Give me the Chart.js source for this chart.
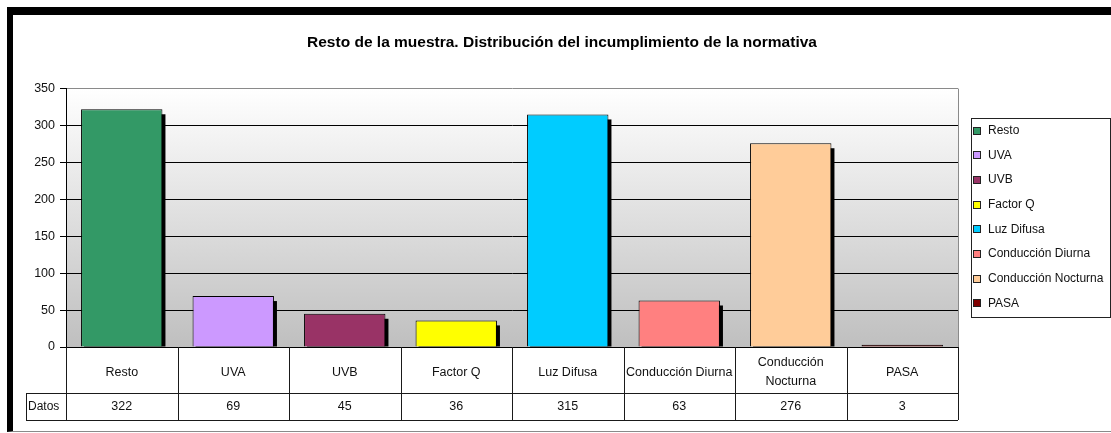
<!DOCTYPE html>
<html>
<head>
<meta charset="utf-8">
<script src="https://cdn.jsdelivr.net/npm/chart.js@4.4.1/dist/chart.umd.min.js"></script>
<style>
  html, body { margin: 0; padding: 0; background: #fff; }
  #wrap { position: relative; width: 1111px; height: 433px; overflow: hidden; }
  #frame {
    position: absolute; left: 7px; top: 7px; right: 0; bottom: 1px;
    border-top: 8px solid #000; border-left: 6px solid #000; border-bottom: 1px solid #8a8a8a;
  }
  #chart { position: absolute; left: 0; top: 0; }
</style>
</head>
<body>
<div id="wrap">
  <div id="frame"></div>
  <canvas id="chart" width="1111" height="433"></canvas>
</div>
<script>
const categories = ["Resto", "UVA", "UVB", "Factor Q", "Luz Difusa", "Conducción Diurna", "Conducción Nocturna", "PASA"];
const tickLabels = ["Resto", "UVA", "UVB", "Factor Q", "Luz Difusa", "Conducción Diurna", ["Conducción", "Nocturna"], "PASA"];
const values = [322, 69, 45, 36, 315, 63, 276, 3];
const colors = ["#339966", "#cc99ff", "#993366", "#ffff00", "#00ccff", "#ff8080", "#ffcc99", "#800000"];
const rowLabel = "Datos";
const yMax = 350;
const yStep = 50;
const title = "Resto de la muestra. Distribución del incumplimiento de la normativa";

const FONT = "'Liberation Sans', Arial, sans-serif";

// gradient plot background + gray border on the right
const plotBackground = {
  id: "plotBackground",
  beforeDraw(chart) {
    const { ctx, chartArea: a } = chart;
    const g = ctx.createLinearGradient(0, a.top, 0, a.bottom);
    g.addColorStop(0, "#ffffff");
    g.addColorStop(1, "#bfbfbf");
    ctx.save();
    ctx.fillStyle = g;
    ctx.fillRect(a.left, a.top, a.right - a.left, a.bottom - a.top);
    ctx.strokeStyle = "#8a8a8a";
    ctx.lineWidth = 1;
    ctx.beginPath();
    ctx.moveTo(a.right + 0.5, a.top);
    ctx.lineTo(a.right + 0.5, a.bottom);
    ctx.stroke();
    ctx.restore();
  },
};

// black drop shadow behind each bar
const barShadow = {
  id: "barShadow",
  beforeDatasetsDraw(chart) {
    const { ctx } = chart;
    ctx.save();
    ctx.fillStyle = "#000";
    chart.getDatasetMeta(0).data.forEach((bar) => {
      const left = bar.x - bar.width / 2;
      const h = bar.base - bar.y - 5;
      if (h > 0) ctx.fillRect(left + 3, bar.y + 5, bar.width, h);
    });
    ctx.restore();
  },
};

// data table under the x axis, plus legend box on the right
const dataTable = {
  id: "dataTable",
  afterDraw(chart) {
    const { ctx, chartArea: a } = chart;
    const xs = chart.scales.x;
    const half = (xs.getPixelForValue(1) - xs.getPixelForValue(0)) / 2;
    const top = a.bottom;
    const mid = xs.bottom;
    const bot = mid + 27;
    const rowLeft = a.left - 40;
    ctx.save();
    ctx.strokeStyle = "#1a1a1a";
    ctx.lineWidth = 1;
    ctx.beginPath();
    for (let i = 0; i <= values.length; i++) {
      const px = Math.round(xs.getPixelForValue(i) - half) + 0.5;
      ctx.moveTo(px, top);
      ctx.lineTo(px, bot);
    }
    ctx.moveTo(rowLeft + 0.5, mid);
    ctx.lineTo(rowLeft + 0.5, bot);
    ctx.moveTo(rowLeft, Math.round(mid) + 0.5);
    ctx.lineTo(a.right, Math.round(mid) + 0.5);
    ctx.moveTo(rowLeft, Math.round(bot) + 0.5);
    ctx.lineTo(a.right, Math.round(bot) + 0.5);
    ctx.stroke();

    ctx.fillStyle = "#111";
    ctx.font = "12px " + FONT;
    ctx.textBaseline = "middle";
    ctx.textAlign = "left";
    ctx.fillText(rowLabel, rowLeft + 2, (mid + bot) / 2);
    ctx.font = "12.5px " + FONT;
    ctx.textAlign = "center";
    values.forEach((v, i) => {
      ctx.fillText(String(v), xs.getPixelForValue(i), (mid + bot) / 2);
    });

    // legend
    const lx = 971, ly = 118, lw = 139, lh = 199;
    ctx.strokeStyle = "#222";
    ctx.strokeRect(lx + 0.5, ly + 0.5, lw, lh);
    ctx.textAlign = "left";
    ctx.font = "12px " + FONT;
    categories.forEach((c, i) => {
      const cy = ly + 12.5 + i * 24.7;
      ctx.fillStyle = colors[i];
      ctx.fillRect(lx + 2, Math.round(cy - 4), 8, 8);
      ctx.strokeStyle = "#222";
      ctx.strokeRect(lx + 2.5, Math.round(cy - 4) + 0.5, 7, 7);
      ctx.fillStyle = "#111";
      ctx.fillText(c, lx + 17, cy);
    });
    ctx.restore();
  },
};

const ctx = document.getElementById("chart").getContext("2d");
const chart = new Chart(ctx, {
  type: "bar",
  data: {
    labels: tickLabels,
    datasets: [
      {
        label: rowLabel,
        data: values,
        backgroundColor: colors,
        borderColor: "#000",
        borderWidth: 1,
        barPercentage: 0.73,
        categoryPercentage: 1,
      },
    ],
  },
  options: {
    responsive: false,
    animation: false,
    layout: { padding: { left: 16, right: 3, top: 0, bottom: 40 } },
    plugins: {
      legend: { display: false },
      tooltip: { enabled: false },
      title: {
        display: true,
        text: title,
        color: "#000",
        font: { family: FONT, size: 15.5, weight: "bold" },
        padding: { top: 33, bottom: 37 },
      },
    },
    scales: {
      x: {
        grid: { display: false, drawTicks: false },
        border: { display: true, color: "#000" },
        ticks: {
          color: "#111",
          font: { family: FONT, size: 12.5, lineHeight: 1.5 },
          padding: 16,
          crossAlign: "center",
          maxRotation: 0,
          autoSkip: false,
        },
        afterFit(s) { s.height = 46; },
      },
      y: {
        min: 0,
        max: yMax,
        ticks: {
          stepSize: yStep,
          color: "#111",
          font: { family: FONT, size: 12.5 },
          padding: 5,
        },
        grid: {
          color: (c) => (c.tick && c.tick.value === yMax ? "#8a8a8a" : "#000"),
          tickColor: "#000",
          tickLength: 6,
        },
        border: { display: true, color: "#000" },
        afterFit(s) { s.width = 50; },
      },
      // empty right-hand strip reserved for the legend box
      legendSpace: {
        type: "linear",
        position: "right",
        display: true,
        grid: { display: false, drawTicks: false },
        border: { display: false },
        ticks: { display: false },
        afterFit(s) { s.width = 150; },
      },
    },
  },
  plugins: [plotBackground, barShadow, dataTable],
});
</script>
</body>
</html>
